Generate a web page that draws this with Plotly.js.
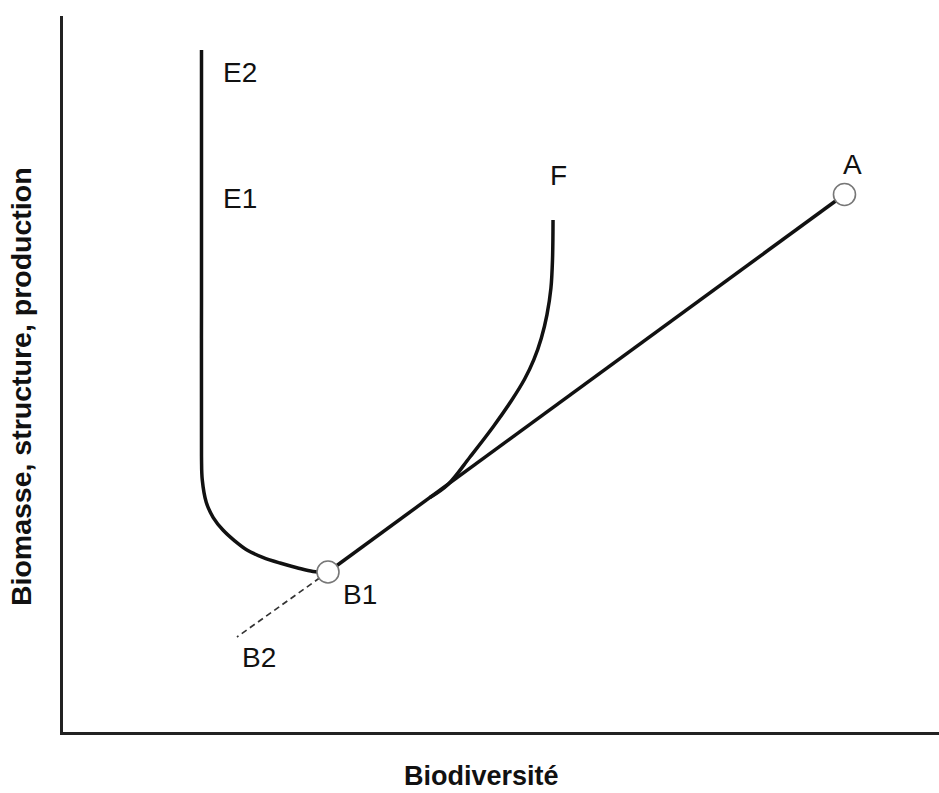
<!DOCTYPE html>
<html>
<head>
<meta charset="utf-8">
<script src="https://cdn.plot.ly/plotly-3.0.1.min.js"></script>
<style>html,body{margin:0;padding:0;background:#fff;}#chart{width:939px;height:793px;}</style>
</head>
<body>
<div id="chart"></div>
<script>
// Curve E (E2 -> E1 -> B1)
const curveE_x = [15.81, 15.81, 15.81, 15.90, 16.35, 17.15, 18.26, 19.60, 21.00, 22.80, 24.77, 26.70, 28.54, 30.25];
const curveE_y = [95.25, 60.00, 38.50, 35.20, 32.10, 29.95, 28.21, 26.70, 25.42, 24.40, 23.60, 22.95, 22.42, 22.35];
// Straight path B1 -> A
const lineBA_x = [30.25, 89.21];
const lineBA_y = [22.35, 75.07];
// Dashed B1 -> B2
const dashB_x = [30.25, 19.86];
const dashB_y = [22.35, 13.27];
// Curve F branching off the B1-A path
const curveF_x = [41.89, 43.95, 46.46, 49.09, 51.20, 52.70, 53.75, 54.60, 55.25, 55.70, 55.88, 55.94];
const curveF_y = [32.74, 34.57, 38.41, 42.60, 46.30, 49.30, 52.00, 55.00, 58.30, 62.00, 66.00, 71.51];
// Points B1 and A
const pts_x = [30.25, 89.21];
const pts_y = [22.35, 75.07];
// Labels
const lab_text = ["E2", "E1", "F", "A", "B1", "B2"];
const lab_x = [20.21, 20.21, 56.51, 90.07, 33.90, 22.37];
const lab_y = [92.11, 74.58, 77.79, 79.33, 19.27, 10.34];

const black = '#111111';
const traces = [
  {x: curveE_x, y: curveE_y, mode: 'lines', line: {color: black, width: 3.5, shape: 'spline', smoothing: 1.0}, hoverinfo: 'skip'},
  {x: lineBA_x, y: lineBA_y, mode: 'lines', line: {color: black, width: 3.5}, hoverinfo: 'skip'},
  {x: curveF_x, y: curveF_y, mode: 'lines', line: {color: black, width: 3.5, shape: 'spline', smoothing: 1.0}, hoverinfo: 'skip'},
  {x: dashB_x, y: dashB_y, mode: 'lines', line: {color: '#333', width: 1.7, dash: '6px,4px'}, hoverinfo: 'skip'},
  {x: pts_x, y: pts_y, mode: 'markers', marker: {symbol: 'circle', size: 22, color: '#ffffff', line: {color: '#777777', width: 1.6}}, hoverinfo: 'skip'}
];

const annotations = lab_text.map((t, i) => ({
  x: lab_x[i], y: lab_y[i], xref: 'x', yref: 'y', text: t, showarrow: false,
  font: {family: 'Liberation Sans, Arial, sans-serif', size: 28, color: '#111'},
  xanchor: 'center', yanchor: 'middle'
}));
annotations.push({
  x: 47.8, xref: 'x', y: -0.061, yref: 'paper', text: '<b>Biodiversité</b>', showarrow: false,
  font: {family: 'Liberation Sans, Arial, sans-serif', size: 27, color: '#111'},
  xanchor: 'center', yanchor: 'middle'
});
annotations.push({
  x: -0.048, xref: 'paper', y: 0.483, yref: 'paper', text: '<b>Biomasse, structure, production</b>', showarrow: false,
  textangle: -90,
  font: {family: 'Liberation Sans, Arial, sans-serif', size: 28.5, color: '#111'},
  xanchor: 'center', yanchor: 'middle'
});

const layout = {
  width: 939, height: 793,
  margin: {l: 63, r: 0, t: 16, b: 61},
  paper_bgcolor: '#ffffff', plot_bgcolor: '#ffffff',
  showlegend: false,
  xaxis: {range: [0, 100], showgrid: false, zeroline: false, showticklabels: false, ticks: '',
          showline: true, linecolor: '#222', linewidth: 3, fixedrange: true},
  yaxis: {range: [0, 100], showgrid: false, zeroline: false, showticklabels: false, ticks: '',
          showline: true, linecolor: '#222', linewidth: 3, fixedrange: true},
  annotations: annotations
};

Plotly.newPlot('chart', traces, layout, {displayModeBar: false, staticPlot: true});
</script>
</body>
</html>
